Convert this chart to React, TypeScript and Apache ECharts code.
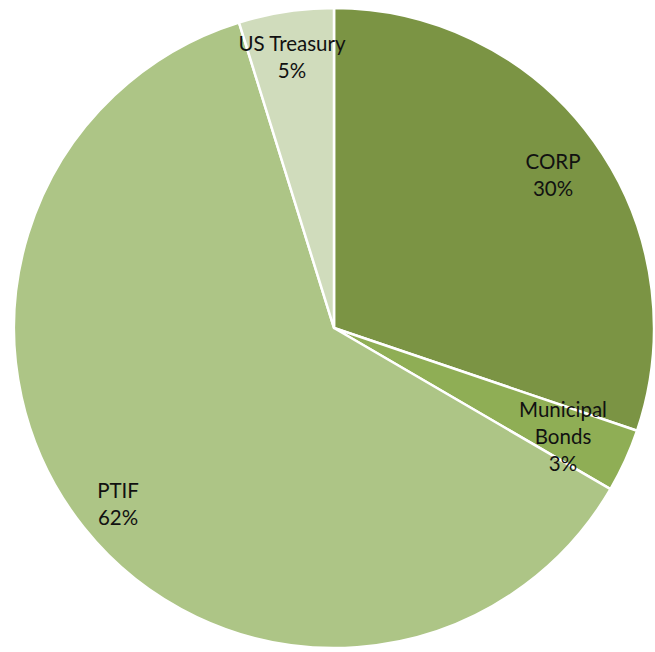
import React, { useEffect, useRef } from "react";
import * as echarts from "echarts";

const categories = ["CORP", "Municipal Bonds", "PTIF", "US Treasury"];
const labelLines = ["CORP", "Municipal\nBonds", "PTIF", "US Treasury"];
const values = [30.2, 3.2, 61.8, 4.8];
const colors = ["#7b9444", "#8fae55", "#adc586", "#d0dcbc"];
const labelPos = [
  [553, 174],
  [563, 436],
  [118, 503],
  [292, 56],
];

export default function App() {
  const ref = useRef<HTMLDivElement>(null);
  useEffect(() => {
    document.body.style.margin = "0";
    const chart = echarts.init(ref.current!, undefined, { renderer: "svg" });
    chart.setOption({
      animation: false,
      backgroundColor: "#ffffff",
      series: [
        {
          type: "pie",
          center: [334, 328],
          radius: 320,
          startAngle: 90,
          clockwise: true,
          data: categories.map((name, i) => ({
            name,
            value: values[i],
            itemStyle: { color: colors[i] },
          })),
          itemStyle: { borderColor: "#ffffff", borderWidth: 2.5 },
          label: {
            show: true,
            position: "inside",
            color: "#111111",
            fontFamily: "Lato",
            fontSize: 20.5,
            lineHeight: 27,
            align: "center",
            formatter: (p: any) =>
              labelLines[p.dataIndex] + "\n" + Math.round(p.percent) + "%",
          },
          labelLine: { show: false },
          labelLayout: (p: any) => ({
            x: labelPos[p.dataIndex][0],
            y: labelPos[p.dataIndex][1],
            align: "center",
            verticalAlign: "middle",
          }),
          emphasis: { disabled: true },
        },
      ],
    });
    return () => chart.dispose();
  }, []);
  return <div ref={ref} style={{ width: 655, height: 652 }} />;
}
